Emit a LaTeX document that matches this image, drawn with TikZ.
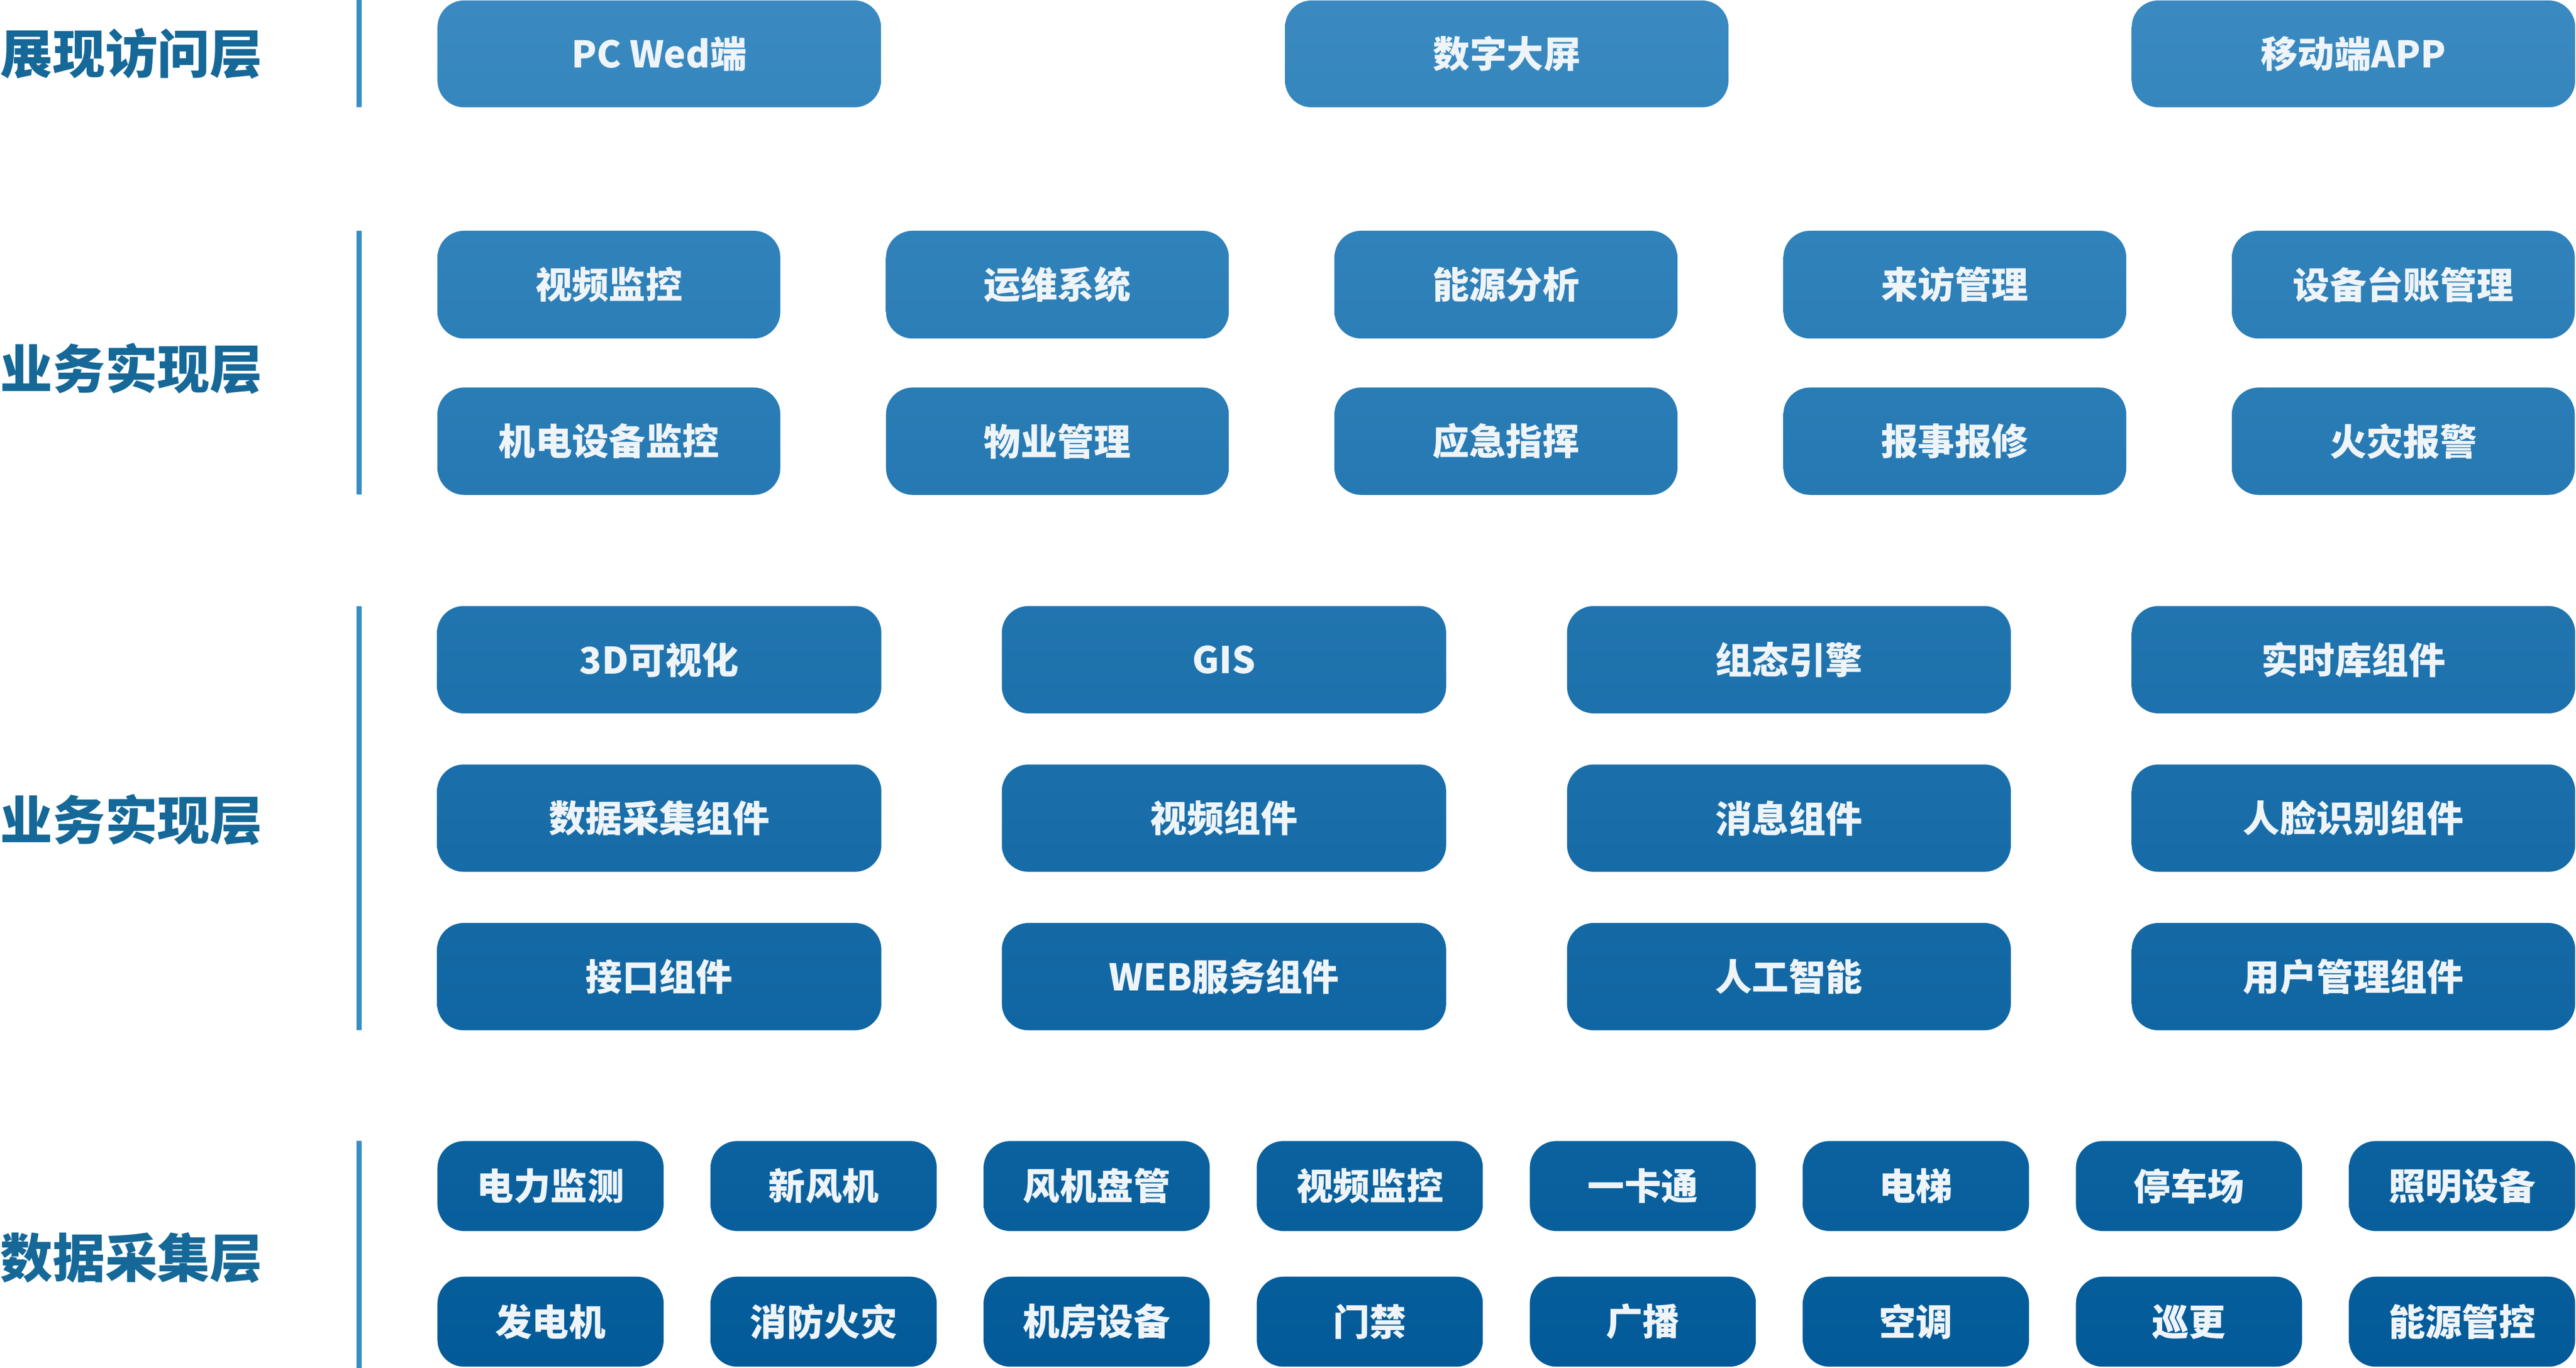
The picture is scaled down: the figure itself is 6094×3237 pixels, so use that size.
\documentclass[tikz,border=0pt]{standalone}
\usepackage{fontspec}
\setmainfont{Noto Sans CJK SC}
\newfontfamily\cjk{Noto Sans CJK SC}
\definecolor{lt}{HTML}{3A8AC1}
\definecolor{dk}{HTML}{025A98}
\definecolor{labc}{HTML}{156897}
\definecolor{linec}{HTML}{378DC4}
\definecolor{txtc}{HTML}{EEF4F8}
\tikzset{
  boxst/.style={rectangle, rounded corners=15.75pt, inner sep=0pt, draw=none,
    text=txtc, font=\cjk\bfseries\fontsize{21.75}{26}\selectfont},
  labst/.style={anchor=west, inner sep=0pt, text=labc,
    font=\cjk\bfseries\fontsize{31}{36}\selectfont},
  vline/.style={draw=linec, line width=3pt}
}
\newcommand\bx[6]{%
  \pgfmathsetmacro\tA{#3/32.37}%
  \pgfmathsetmacro\tB{#5/32.37}%
  \node[boxst, top color=dk!\tA!lt, bottom color=dk!\tB!lt,
    minimum width={(#4-#2)*0.25pt}, minimum height={(#5-#3)*0.25pt}]
    (#1) at ({(#2+#4)/2},{(#3+#5)/2}) {#6};}
\begin{document}
\begin{tikzpicture}[x=0.25pt,y=-0.25pt]
\useasboundingbox (0,0) rectangle (6094,3237);
% layer labels
\node[labst] (L1) at (0,127) {展现访问层};
\node[labst] (L2) at (0,872) {业务实现层};
\node[labst] (L3) at (0,1940) {业务实现层};
\node[labst] (L4) at (0,2976) {数据采集层};
% separators
\draw[vline] (849,0) -- (849,254);
\draw[vline] (849,546) -- (849,1170);
\draw[vline] (849,1434) -- (849,2438);
\draw[vline] (849,2700) -- (849,3237);
% row 1
\bx{a1}{1035}{1}{2084}{254}{PC Wed端}
\bx{a2}{3040}{1}{4089}{254}{数字大屏}
\bx{a3}{5043}{1}{6092}{254}{移动端APP}
% row 2
\bx{b1}{1035}{546}{1846}{801}{视频监控}
\bx{b2}{2096}{546}{2907}{801}{运维系统}
\bx{b3}{3157}{546}{3968}{801}{能源分析}
\bx{b4}{4219}{546}{5030}{801}{来访管理}
\bx{b5}{5280}{546}{6091}{801}{设备台账管理}
\bx{b6}{1035}{917}{1846}{1171}{机电设备监控}
\bx{b7}{2096}{917}{2907}{1171}{物业管理}
\bx{b8}{3157}{917}{3968}{1171}{应急指挥}
\bx{b9}{4219}{917}{5030}{1171}{报事报修}
\bx{b10}{5280}{917}{6091}{1171}{火灾报警}
% row 3
\bx{c1}{1034}{1434}{2085}{1688}{3D可视化}
\bx{c2}{2370}{1434}{3421}{1688}{GIS}
\bx{c3}{3707}{1434}{4757}{1688}{组态引擎}
\bx{c4}{5043}{1434}{6092}{1688}{实时库组件}
\bx{c5}{1034}{1809}{2085}{2063}{数据采集组件}
\bx{c6}{2370}{1809}{3421}{2063}{视频组件}
\bx{c7}{3707}{1809}{4757}{2063}{消息组件}
\bx{c8}{5043}{1809}{6092}{2063}{人脸识别组件}
\bx{c9}{1034}{2184}{2085}{2438}{接口组件}
\bx{c10}{2370}{2184}{3421}{2438}{WEB服务组件}
\bx{c11}{3707}{2184}{4757}{2438}{人工智能}
\bx{c12}{5043}{2184}{6092}{2438}{用户管理组件}
% row 4
\bx{d1}{1035}{2700}{1570}{2913}{电力监测}
\bx{d2}{1681}{2700}{2216}{2913}{新风机}
\bx{d3}{2327}{2700}{2862}{2913}{风机盘管}
\bx{d4}{2973}{2700}{3508}{2913}{视频监控}
\bx{d5}{3619}{2700}{4154}{2913}{一卡通}
\bx{d6}{4265}{2700}{4800}{2913}{电梯}
\bx{d7}{4911}{2700}{5446}{2913}{停车场}
\bx{d8}{5557}{2700}{6092}{2913}{照明设备}
\bx{d9}{1035}{3021}{1570}{3234}{发电机}
\bx{d10}{1681}{3021}{2216}{3234}{消防火灾}
\bx{d11}{2327}{3021}{2862}{3234}{机房设备}
\bx{d12}{2973}{3021}{3508}{3234}{门禁}
\bx{d13}{3619}{3021}{4154}{3234}{广播}
\bx{d14}{4265}{3021}{4800}{3234}{空调}
\bx{d15}{4911}{3021}{5446}{3234}{巡更}
\bx{d16}{5557}{3021}{6092}{3234}{能源管控}
\end{tikzpicture}
\end{document}
